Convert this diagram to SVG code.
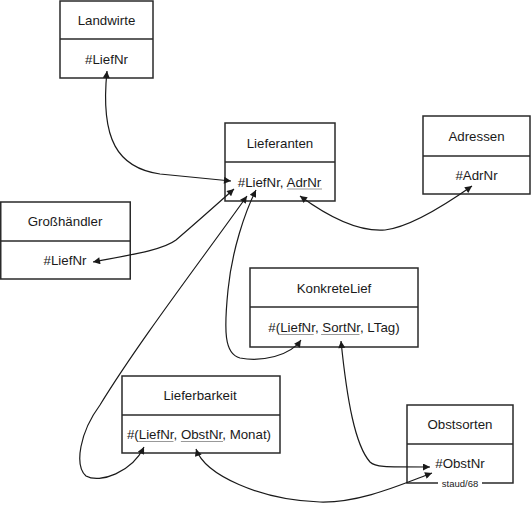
<svg xmlns="http://www.w3.org/2000/svg" width="531" height="505" viewBox="0 0 531 505">
<defs>
<marker id="arr" viewBox="0 0 10 10" refX="10" refY="5" markerWidth="9" markerHeight="7" markerUnits="userSpaceOnUse" orient="auto-start-reverse">
<path d="M0,0 L10,5 L0,10 z" fill="#1a1a1a"/>
</marker>
</defs>
<style>
.box{fill:#fff;stroke:#2a2a2a;stroke-width:1.5}
.div{stroke:#2a2a2a;stroke-width:1.5}
.t{font-family:"Liberation Sans",Arial,sans-serif;font-size:13.3px;fill:#1a1a1a;text-anchor:middle}
.u{stroke:#999;stroke-width:1}
.c{fill:none;stroke:#1a1a1a;stroke-width:1.2;marker-start:url(#arr);marker-end:url(#arr)}
.s{font-family:"Liberation Sans",Arial,sans-serif;font-size:9.5px;fill:#1a1a1a;text-anchor:middle}
</style>
<rect width="531" height="505" fill="#fff"/>

<g id="landwirte">
<rect class="box" x="60" y="1" width="93" height="77"/>
<line class="div" x1="60" y1="39" x2="153" y2="39"/>
<text class="t" x="106.5" y="25">Landwirte</text>
<text class="t" x="106.5" y="63.5">#LiefNr</text>
</g>

<g id="lieferanten">
<rect class="box" x="225" y="123" width="110" height="78"/>
<line class="div" x1="225" y1="162" x2="335" y2="162"/>
<text class="t" x="280" y="147.5">Lieferanten</text>
<text class="t" x="279.5" y="186.5">#LiefNr, AdrNr</text>
<line class="u" x1="287.3" y1="189" x2="322" y2="189"/>
</g>

<g id="adressen">
<rect class="box" x="423" y="116" width="107" height="78"/>
<line class="div" x1="423" y1="156" x2="530" y2="156"/>
<text class="t" x="476.5" y="140.5">Adressen</text>
<text class="t" x="476.5" y="179.5">#AdrNr</text>
</g>

<g id="grosshaendler">
<rect class="box" x="0.75" y="202" width="129.5" height="77"/>
<line class="div" x1="0" y1="241" x2="130" y2="241"/>
<text class="t" x="65" y="226">Großhändler</text>
<text class="t" x="65" y="265">#LiefNr</text>
</g>

<g id="konkretelief">
<rect class="box" x="250" y="268" width="168" height="79"/>
<line class="div" x1="250" y1="307" x2="418" y2="307"/>
<text class="t" x="334" y="292.5">KonkreteLief</text>
<text class="t" x="334" y="332">#(LiefNr, SortNr, LTag)</text>
<line class="u" x1="278.2" y1="334.5" x2="313.7" y2="334.5"/>
<line class="u" x1="321.1" y1="334.5" x2="359.5" y2="334.5"/>
</g>

<g id="lieferbarkeit">
<rect class="box" x="122" y="376" width="158" height="77"/>
<line class="div" x1="122" y1="415" x2="280" y2="415"/>
<text class="t" x="200" y="400">Lieferbarkeit</text>
<text class="t" x="199" y="439">#(LiefNr, ObstNr, Monat)</text>
<line class="u" x1="138" y1="441.5" x2="173.5" y2="441.5"/>
<line class="u" x1="180.9" y1="441.5" x2="223" y2="441.5"/>
</g>

<g id="obstsorten">
<path d="M438,483 L407,483 L407,405 L513,405 L513,483 L482,483" fill="#fff" stroke="#2a2a2a" stroke-width="1.5"/>
<line class="div" x1="407" y1="444" x2="513" y2="444"/>
<text class="t" x="460" y="429">Obstsorten</text>
<text class="t" x="460" y="468">#ObstNr</text>
<text class="s" x="460" y="486.5">staud/68</text>
</g>

<g id="connectors">
<path class="c" d="M107,71 C100,140 118,168 160,174 C190,177 212,179 231,181"/>
<path class="c" d="M93,262 C130,255 163,250 176,240 C190,228 215,206 234,189"/>
<path class="c" d="M144,447 C132,472 100,484 86,476 C74,465 80,432 100,405 C140,340 200,262 247,196"/>
<path class="c" d="M301,340 C290,356 262,362 240,358 C224,354 224,330 228,290 C232,250 245,212 256,190"/>
<path class="c" d="M300,196 C330,218 360,232 385,230 C410,227 445,205 472,186"/>
<path class="c" d="M341,341 C347,400 355,445 370,462 C375,467 382,467 430,467"/>
<path class="c" d="M196,449 C205,475 260,500 320,502 C360,503 400,485 432,473"/>
</g>
</svg>
